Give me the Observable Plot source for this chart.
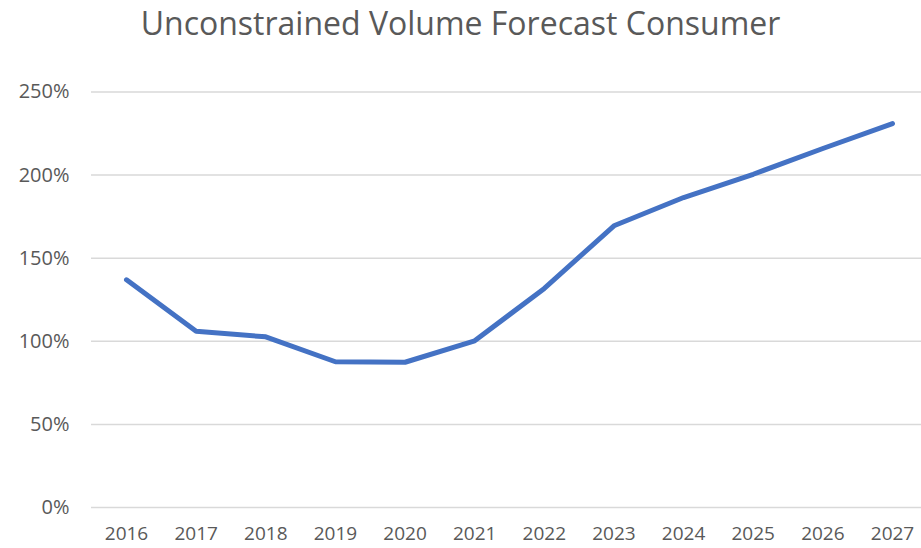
<!DOCTYPE html>
<html>
<head>
<meta charset="utf-8">
<script src="https://cdn.jsdelivr.net/npm/d3@7"></script>
<script src="https://cdn.jsdelivr.net/npm/@observablehq/plot@0.6"></script>
<style>
  html, body { margin: 0; padding: 0; background: #fff; }
  #title { height: 50px; width: 921px; text-align: center; font-family: "Open Sans", sans-serif; font-size: 32px; color: #595959; line-height: 46px; white-space: nowrap; }
  #chart svg { display: block; }
</style>
</head>
<body>
<div id="title">Unconstrained Volume Forecast Consumer</div>
<div id="chart"></div>
<script>
const years = ["2016","2017","2018","2019","2020","2021","2022","2023","2024","2025","2026","2027"];
const values = [1.37, 1.06, 1.027, 0.877, 0.874, 1.003, 1.318, 1.695, 1.865, 2.005, 2.16, 2.31];
const yTicks = [0, 0.5, 1, 1.5, 2, 2.5];

const data = years.map((year, i) => ({year, value: values[i]}));

const chart = Plot.plot({
  width: 921,
  height: 498,
  marginTop: 41.5,
  marginBottom: 41,
  marginLeft: 91,
  marginRight: 0,
  style: {fontFamily: "'Open Sans', sans-serif", fontSize: "20px", color: "#595959", background: "#fff"},
  x: {type: "point", domain: years, range: [126, 892], padding: 0, round: false, label: null},
  y: {domain: [0, 2.5], label: null},
  marks: [
    Plot.ruleY(yTicks, {stroke: "#d9d9d9", strokeWidth: 1.5}),
    Plot.axisY(yTicks, {tickFormat: d => Math.round(d * 100) + "%", tickSize: 0, tickPadding: 22, label: null}),
    Plot.axisX(years, {tickSize: 0, tickPadding: 19, fontSize: 19, label: null}),
    Plot.line(data, {x: "year", y: "value", stroke: "#4472C4", strokeWidth: 5, strokeLinecap: "round", strokeLinejoin: "round"})
  ]
});
document.getElementById("chart").appendChild(chart);
</script>
</body>
</html>
